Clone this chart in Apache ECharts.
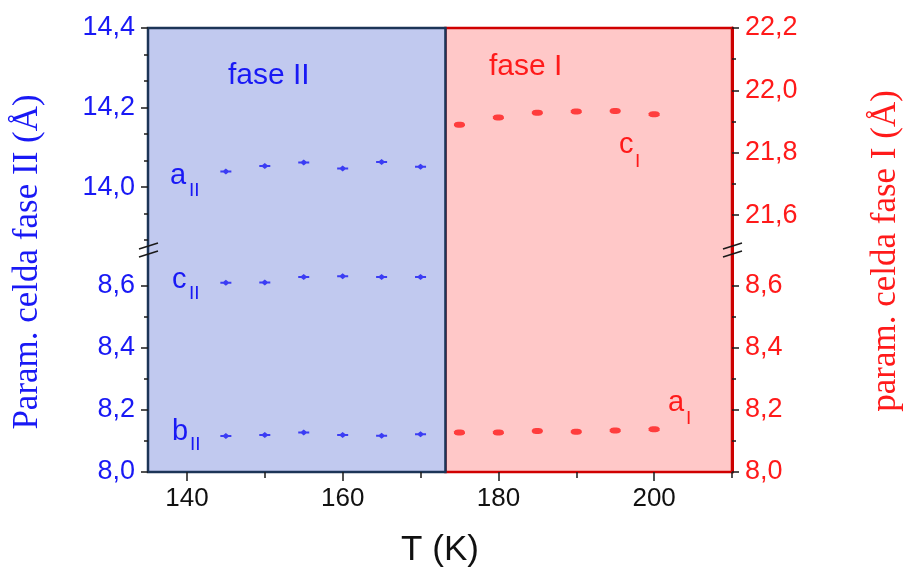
<!DOCTYPE html>
<html><head><meta charset="utf-8">
<script src="https://cdn.jsdelivr.net/npm/echarts@6/dist/echarts.min.js"></script>
<style>html,body{margin:0;padding:0;background:#fff}#c{width:906px;height:569px}</style>
</head><body><div id="c"></div>
<script>
// ---------------- data ----------------
const T_II = [145, 150, 155, 160, 165, 170];
const A_II = [14.039, 14.053, 14.062, 14.047, 14.063, 14.051];
const C_II = [8.610, 8.611, 8.629, 8.631, 8.629, 8.629];
const B_II = [8.116, 8.119, 8.127, 8.119, 8.117, 8.122];
const T_I = [175, 180, 185, 190, 195, 200];
const C_I = [21.890, 21.913, 21.928, 21.932, 21.934, 21.923];
const A_I = [8.127, 8.127, 8.132, 8.130, 8.134, 8.138];
const PHASE_T = 173.2;
const T_RANGE = [135, 210];
const X_MAJOR = [140, 160, 180, 200];
const X_MINOR = [150, 170, 190, 210];
const L_UP_RANGE = [13.842, 14.4];
const L_UP_MAJOR = [14.0, 14.2, 14.4];
const L_UP_MINOR = [13.8667, 13.9333, 14.0667, 14.1333, 14.2667, 14.3333];
const R_UP_RANGE = [21.488, 22.2];
const R_UP_MAJOR = [21.6, 21.8, 22.0, 22.2];
const R_UP_MINOR = [21.7, 21.9, 22.1];
const LOW_RANGE = [8.0, 8.716];
const LOW_MAJOR = [8.0, 8.2, 8.4, 8.6];
const LOW_MINOR = [8.1, 8.3, 8.5];

// ---------------- layout / style ----------------
const GL = 148, GW = 584, GT = 28, GH = 444, BRK = 250;
const GR = GL + GW;
const BLUE = '#1919f5', RED = '#ff1a1a', TICK = '#1a1a1a';
const SANS = '"Liberation Sans", Arial, sans-serif';
const SERIF = '"Liberation Serif", "Times New Roman", serif';
const fmt = v => v.toFixed(1).replace('.', ',');
const zip = (xs, ys) => xs.map((x, i) => [x, ys[i]]);

function yAx(grid, pos, range, ticks, opts) {
  const minor = opts.minor;
  return {
    gridIndex: grid, position: pos, min: range[0], max: range[1], z: 5,
    splitLine: { show: false },
    axisLine: minor ? { show: false } : { show: true, onZero: false, lineStyle: { color: opts.lineColor, width: opts.lineWidth } },
    axisTick: { show: true, inside: false, length: minor ? 4 : 7, customValues: ticks, lineStyle: { color: TICK, width: 1.5 } },
    axisLabel: minor ? { show: false } : {
      show: true, customValues: ticks, formatter: fmt, color: opts.color,
      fontSize: 27, fontFamily: SANS, margin: 13
    }
  };
}

const chart = echarts.init(document.getElementById('c'), null, { renderer: 'canvas' });

const grids = [
  { left: GL, top: GT, width: GW, height: GH },
  { left: GL, top: GT, width: GW, height: BRK - GT },
  { left: GL, top: BRK, width: GW, height: GT + GH - BRK }
];

const xAxes = [
  { gridIndex: 0, type: 'value', min: T_RANGE[0], max: T_RANGE[1], show: false },
  { gridIndex: 1, type: 'value', min: T_RANGE[0], max: T_RANGE[1], show: false },
  { gridIndex: 2, type: 'value', position: 'bottom', offset: 0, min: T_RANGE[0], max: T_RANGE[1], z: 5,
    splitLine: { show: false }, axisLine: { show: false },
    axisTick: { show: true, length: 9, customValues: X_MAJOR, lineStyle: { color: TICK, width: 1.5 } },
    axisLabel: { customValues: X_MAJOR, color: '#111', fontSize: 26, fontFamily: SANS, margin: 14 } },
  { gridIndex: 2, type: 'value', position: 'bottom', offset: 0, min: T_RANGE[0], max: T_RANGE[1], z: 5,
    splitLine: { show: false }, axisLine: { show: false },
    axisTick: { show: true, length: 6, customValues: X_MINOR, lineStyle: { color: TICK, width: 1.5 } },
    axisLabel: { show: false } }
];

const yAxes = [
  { gridIndex: 0, min: 0, max: 1, show: false },
  yAx(1, 'left', L_UP_RANGE, L_UP_MAJOR, { color: BLUE, lineColor: '#1c3557', lineWidth: 2 }),
  yAx(1, 'left', L_UP_RANGE, L_UP_MINOR, { minor: true }),
  yAx(1, 'right', R_UP_RANGE, R_UP_MAJOR, { color: RED, lineColor: '#cc0000', lineWidth: 3 }),
  yAx(1, 'right', R_UP_RANGE, R_UP_MINOR, { minor: true }),
  yAx(2, 'left', LOW_RANGE, LOW_MAJOR, { color: BLUE, lineColor: '#1c3557', lineWidth: 2 }),
  yAx(2, 'left', LOW_RANGE, LOW_MINOR, { minor: true }),
  yAx(2, 'right', LOW_RANGE, LOW_MAJOR, { color: RED, lineColor: '#cc0000', lineWidth: 3 }),
  yAx(2, 'right', LOW_RANGE, LOW_MINOR, { minor: true })
];

const BLUE_SYM = 'path://M0,2 L3,2 L5.5,0 L8,2 L11,2 L11,4 L8,4 L5.5,6 L3,4 L0,4 Z';
const RED_SYM = 'path://M0,2 L1.5,0.5 L4,0 L7,0 L9.5,0.5 L11,2 L11,4 L9.5,5.5 L7,6 L4,6 L1.5,5.5 L0,4 Z';

function pts(name, xi, yi, data, color, sym) {
  return { name, type: 'scatter', xAxisIndex: xi, yAxisIndex: yi, data, z: 10,
    symbol: sym, symbolSize: [11, 6], symbolKeepAspect: false, itemStyle: { color }, silent: true };
}

const series = [
  { type: 'line', xAxisIndex: 0, yAxisIndex: 0, data: [], z: 1, silent: true,
    markArea: { silent: true, itemStyle: { color: '#ffc8c8', borderColor: '#d00000', borderWidth: 2.5 },
      data: [[{ xAxis: PHASE_T }, { xAxis: T_RANGE[1] }]] } },
  { type: 'line', xAxisIndex: 0, yAxisIndex: 0, data: [], z: 2, silent: true,
    markArea: { silent: true, itemStyle: { color: '#c1c9ef', borderColor: '#1c3557', borderWidth: 2.5 },
      data: [[{ xAxis: T_RANGE[0] }, { xAxis: PHASE_T }]] } },
  pts('aII', 1, 1, zip(T_II, A_II), BLUE, BLUE_SYM),
  pts('cI', 1, 3, zip(T_I, C_I), RED, RED_SYM),
  pts('cII', 2, 5, zip(T_II, C_II), BLUE, BLUE_SYM),
  pts('bII', 2, 5, zip(T_II, B_II), BLUE, BLUE_SYM),
  pts('aI', 2, 7, zip(T_I, A_I), RED, RED_SYM)
];

function txt(text, x, y, size, color, family, align, rot) {
  return { type: 'text', x, y, rotation: rot || 0, z: 100, silent: true,
    style: { text, x: 0, y: 0, fill: color, font: size + 'px ' + family,
      textAlign: align || 'left', textVerticalAlign: 'middle' } };
}
function brk(x) {
  const st = { stroke: TICK, lineWidth: 1.5 };
  return [
    { type: 'line', z: 100, silent: true, shape: { x1: x - 9, y1: BRK - 1, x2: x + 10, y2: BRK - 7 }, style: st },
    { type: 'line', z: 100, silent: true, shape: { x1: x - 9, y1: BRK + 7, x2: x + 10, y2: BRK + 1 }, style: st }
  ];
}

const graphic = [
  txt('Param. celda fase II (Å)', 28, 262, 35, BLUE, SERIF, 'center', Math.PI / 2),
  txt('param. celda fase I (Å)', 886, 251, 35, RED, SERIF, 'center', Math.PI / 2),
  txt('T (K)', 440, 550, 35, '#111', SANS, 'center'),
  txt('fase II', 228, 75.5, 30, BLUE, SANS),
  txt('fase I', 489, 66.5, 30, RED, SANS),
  txt('a', 170, 176, 29, BLUE, SANS), txt('II', 189, 190.5, 19, BLUE, SANS),
  txt('c', 172, 280, 29, BLUE, SANS), txt('II', 189, 293.5, 19, BLUE, SANS),
  txt('b', 172, 432, 29, BLUE, SANS), txt('II', 190, 445, 19, BLUE, SANS),
  txt('c', 619, 145, 29, RED, SANS), txt('I', 635, 162, 19, RED, SANS),
  txt('a', 668, 403, 29, RED, SANS), txt('I', 686, 419, 19, RED, SANS)
].concat(brk(GL), brk(GR));

chart.setOption({
  animation: false,
  backgroundColor: '#fff',
  grid: grids, xAxis: xAxes, yAxis: yAxes, series, graphic
});
</script></body></html>
